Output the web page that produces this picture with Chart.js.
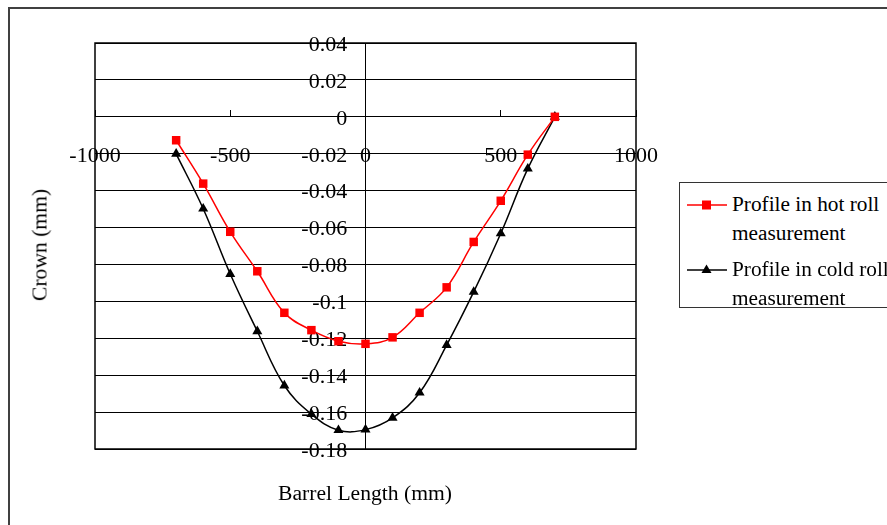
<!DOCTYPE html>
<html>
<head>
<meta charset="utf-8">
<script src="https://cdn.jsdelivr.net/npm/chart.js@4.4.1/dist/chart.umd.min.js"></script>
<style>
    html, body { margin: 0; padding: 0; background: #fff; overflow: hidden; }
    #wrap { position: relative; width: 887px; height: 525px; overflow: hidden; }
    #frame { position: absolute; left: 8px; top: 7px; width: 920px; height: 560px; border: 2px solid #404040; }
    #crownChart { position: absolute; left: 0; top: 0; }
    .axis-title { position: absolute; font-family: "Liberation Serif", serif; font-size: 21.6px; color: #000; white-space: nowrap; }
    #xTitle { left: 365px; top: 481px; transform: translateX(-50%); }
    #yTitle { left: 40px; top: 245px; transform: translate(-50%, -50%) rotate(-90deg); }
    #legend { position: absolute; left: 679px; top: 182px; width: 260px; height: 124px; border: 1.5px solid #333; background: #fff;
              font-family: "Liberation Serif", serif; font-size: 21.3px; line-height: 29px; color: #000; }
    .item { position: absolute; left: 0; }
    .item svg { position: absolute; left: 7px; top: 6px; }
    .item div { position: absolute; left: 52px; top: 0; white-space: nowrap; }
</style>
</head>
<body>
<div id="wrap">
    <div id="frame"></div>
    <canvas id="crownChart" width="887" height="525"></canvas>
    <div class="axis-title" id="xTitle">Barrel Length (mm)</div>
    <div class="axis-title" id="yTitle">Crown (mm)</div>
    <div id="legend">
        <div class="item" style="top:7px">
            <svg width="40" height="18"><line x1="0" y1="9" x2="40" y2="9" stroke="#ff0000" stroke-width="1.5"/><rect x="15" y="4.5" width="9" height="9" fill="#ff0000"/></svg>
            <div>Profile in hot roll<br>measurement</div>
        </div>
        <div class="item" style="top:72px">
            <svg width="40" height="18"><line x1="0" y1="9" x2="40" y2="9" stroke="#000" stroke-width="1.5"/><polygon points="19.5,3.5 24.5,12 14.5,12" fill="#000"/></svg>
            <div>Profile in cold roll<br>measurement</div>
        </div>
    </div>
</div>
<script>
// Data
const barrelLength = [-700, -600, -500, -400, -300, -200, -100, 0, 100, 200, 300, 400, 500, 600, 700];
const hotRollCrown = [-0.0127, -0.0362, -0.0623, -0.0837, -0.1062, -0.1156, -0.1216, -0.123, -0.1195, -0.1062, -0.0924, -0.0678, -0.0455, -0.0205, 0];
const coldRollCrown = [-0.0201, -0.0498, -0.0852, -0.1162, -0.1456, -0.1611, -0.1698, -0.1695, -0.1631, -0.1495, -0.1237, -0.0949, -0.0632, -0.0281, 0];
const xTickValues = [-1000, -500, 0, 500, 1000];
const yTickValues = [0.04, 0.02, 0, -0.02, -0.04, -0.06, -0.08, -0.1, -0.12, -0.14, -0.16, -0.18];

document.addEventListener("DOMContentLoaded", () => {
    const toPoints = ys => barrelLength.map((x, i) => ({ x: x, y: ys[i] }));
    const tickFont = { family: "'Liberation Serif', serif", size: 22 };

    // box around the plot area
    const plotFrame = {
        id: 'plotFrame',
        beforeDatasetsDraw(chart) {
            const { ctx, chartArea: a } = chart;
            ctx.save();
            ctx.strokeStyle = '#000';
            ctx.lineWidth = 1.5;
            ctx.strokeRect(a.left, a.top, a.right - a.left, a.bottom - a.top);
            ctx.restore();
        }
    };

    const ctx = document.getElementById('crownChart').getContext('2d');
    new Chart(ctx, {
        type: 'line',
        data: {
            datasets: [{
                label: 'Profile in hot roll measurement',
                data: toPoints(hotRollCrown),
                borderColor: '#ff0000',
                backgroundColor: '#ff0000',
                borderWidth: 1.5,
                pointStyle: 'rect',
                pointRadius: 6,
                pointBorderWidth: 0,
                tension: 0.4
            }, {
                label: 'Profile in cold roll measurement',
                data: toPoints(coldRollCrown),
                borderColor: '#000000',
                backgroundColor: '#000000',
                borderWidth: 1.5,
                pointStyle: 'triangle',
                pointRadius: 5.8,
                pointBorderWidth: 0,
                tension: 0.4
            }]
        },
        options: {
            responsive: false,
            animation: false,
            layout: { padding: { left: 95, right: 251, top: 43, bottom: 76 } },
            plugins: {
                legend: { display: false },
                tooltip: { enabled: false }
            },
            scales: {
                x: {
                    type: 'linear',
                    min: -1000,
                    max: 1000,
                    position: { y: 0 },
                    afterBuildTicks: axis => { axis.ticks = xTickValues.map(v => ({ value: v })); },
                    grid: { drawOnChartArea: false, tickLength: -7, color: '#000' },
                    border: { color: '#000', width: 1 },
                    ticks: { color: '#000', font: tickFont, padding: 33, maxRotation: 0, callback: value => String(value) }
                },
                y: {
                    type: 'linear',
                    min: -0.18,
                    max: 0.04,
                    position: { x: 0 },
                    afterBuildTicks: axis => { axis.ticks = yTickValues.map(v => ({ value: v })); },
                    grid: { color: '#000', lineWidth: 1, tickLength: -7 },
                    border: { color: '#000', width: 1 },
                    ticks: {
                        color: '#000',
                        font: tickFont,
                        labelOffset: 2,
                        // trailing spaces keep the labels clear of the centred axis line
                        callback: value => String(parseFloat(value.toFixed(2))) + '   \u200A'
                    }
                }
            }
        },
        plugins: [plotFrame]
    });
});
</script>
</body>
</html>
